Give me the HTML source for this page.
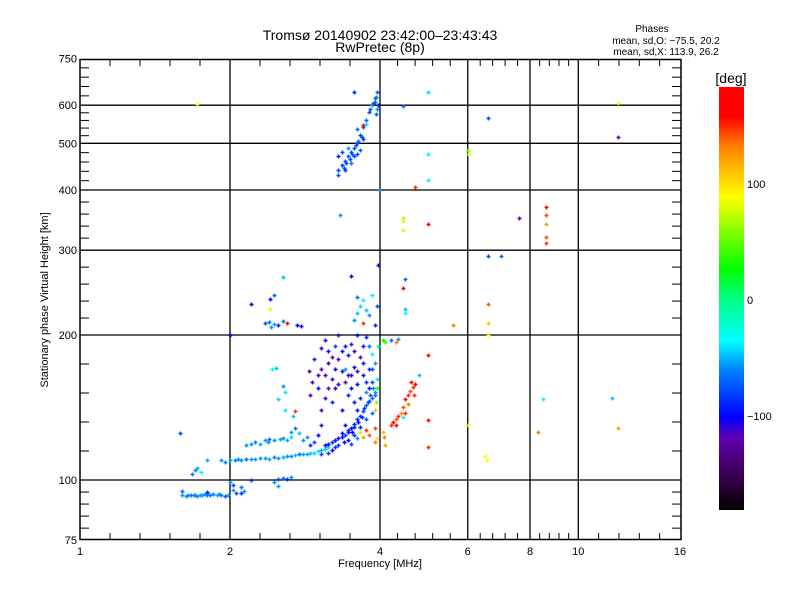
<!DOCTYPE html>
<html><head><meta charset="utf-8"><style>
body{margin:0;background:#fff}
svg text{font-family:"Liberation Sans",sans-serif;fill:#000}
</style></head><body>
<svg id="chart" width="800" height="600" viewBox="0 0 800 600" xmlns="http://www.w3.org/2000/svg">
<defs><linearGradient id="cb" x1="0" y1="1" x2="0" y2="0">
<stop offset="0" stop-color="#000"/><stop offset="0.08" stop-color="#3a0050"/><stop offset="0.17" stop-color="#6000b0"/><stop offset="0.22" stop-color="#0000ff"/><stop offset="0.33" stop-color="#0080ff"/><stop offset="0.4" stop-color="#00ffff"/><stop offset="0.5" stop-color="#00ff80"/><stop offset="0.57" stop-color="#00ff00"/><stop offset="0.74" stop-color="#ffff00"/><stop offset="0.86" stop-color="#ff8000"/><stop offset="0.93" stop-color="#ff0000"/><stop offset="1" stop-color="#ff0000"/>
</linearGradient></defs>
<text x="380" y="40" font-size="14" text-anchor="middle">Tromsø 20140902 23:42:00–23:43:43</text>
<text x="380" y="52" font-size="14" text-anchor="middle">RwPretec (8p)</text>
<g font-size="10" text-anchor="middle">
<text x="652" y="32">Phases</text><text x="666" y="44">mean, sd,O: −75.5, 20.2</text><text x="666" y="55">mean, sd,X: 113.9, 26.2</text></g>
<g id="grid"></g>
<g id="ticks"></g>
<g id="pts"></g>
<rect x="80" y="59.5" width="601" height="480" fill="none" stroke="#000" stroke-width="1.5"/>
<text x="380" y="567" font-size="11" text-anchor="middle">Frequency [MHz]</text>
<text x="48" y="300" font-size="11" text-anchor="middle" transform="rotate(-90 48 300)">Stationary phase Virtual Height [km]</text>
<rect x="719" y="87" width="25" height="423" fill="url(#cb)"/>
<text x="731" y="83" font-size="14" text-anchor="middle">[deg]</text>
<g id="cbt" font-size="11"></g>
</svg>
<script>
const xTickLabels=[1,2,4,6,8,10,16];
const yTickLabels=[75,100,200,300,400,500,600,750];
const xGridValues=[2,4,6,8,10];
const yGridValues=[100,200,300,400,500,600];
const cbTickValues=[100,0,-100];
const freq=[1.6,1.6,1.63,1.67,1.7,1.74,1.78,1.8,1.8,1.85,1.9,1.95,1.98,2.03,2.06,2.1,2.13,1.8,1.88,
2.0,2.03,2.1,2.45,2.5,2.55,2.6,2.65,2.5,2.2,
1.8,1.95,2.0,2.05,2.1,2.2,2.3,2.4,2.5,2.6,2.7,2.8,2.9,3.0,3.1,3.15,2.15,2.45,2.75,2.95,1.7,1.72,1.75,1.68,
2.15,2.2,2.25,2.3,2.35,2.4,2.55,2.6,2.65,2.7,2.65,2.75,
3.1,3.2,3.3,3.35,3.4,3.45,3.5,3.55,3.6,3.65,3.7,3.75,3.8,3.85,3.9,3.3,3.45,3.55,3.65,3.75,3.85,3.2,3.5,3.6,3.4,3.6,
3.7,3.75,3.8,3.9,3.95,3.9,3.65,
3.05,3.1,3.15,3.2,3.25,3.3,3.35,3.05,3.1,3.15,3.4,3.45,3.5,3.55,3.6,3.65,3.7,3.75,3.8,3.85,3.9,3.95,3.9,3.7,3.5,3.3,3.6,3.8,3.2,3.35,3.55,3.25,3.45,3.65,3.4,3.0,2.95,3.85,3.92,3.95,3.9,3.97,3.75,
3.55,3.6,3.65,3.7,3.75,3.8,3.85,3.7,3.6,3.9,3.95,3.5,3.97,
2.35,2.4,2.45,2.5,2.55,2.42,2.6,2.72,2.78,2.41,2.41,2.45,2.55,2.43,2.47,2.55,2.58,2.5,2.58,2.7,2.68,2.0,2.2,
2.9,2.95,2.85,3.0,2.8,3.05,2.88,2.92,2.9,3.0,
3.3,3.35,3.4,3.45,3.5,3.55,3.6,3.65,3.7,3.75,3.8,3.85,3.9,3.92,3.95,3.4,3.5,3.55,3.6,3.65,3.45,3.6,3.7,3.7,3.75,3.3,3.35,3.95,3.92,3.55,3.98,3.97,3.3,
4.2,4.25,4.3,4.35,4.4,4.45,4.5,4.55,4.6,4.65,4.7,4.55,4.45,4.62,4.68,4.3,4.5,4.08,4.1,4.05,4.8,
5.0,4.44,5.0,5.0,4.7,6.6,6.0,6.0,12,12,4.44,4.44,4.44,5.0,7.6,8.6,8.6,8.6,8.6,8.6,6.6,7.0,4.5,4.45,4.5,4.5,5.6,6.6,6.6,6.6,5.0,8.5,11.7,12,6.0,8.3,5.0,5.0,6.5,6.55,
4.05,4.1,4.2,4.3,4.35,1.72,1.59,3.33,
3.15,3.25,3.35,3.45,3.55,3.62,3.68,3.72,3.78,3.82,3.88,3.25,3.38,3.52,3.15,3.05,
1.92,2.08,2.25,2.35,2.55,2.65,2.85,3.05,2.38,2.45,2.52,
1.65,1.72,1.76,1.78,1.92,1.82,1.69,
3.1,3.2,3.3,3.35,3.45,3.5,3.6,3.7,3.75,3.8,3.15,3.25,3.05,3.4,3.55,3.85,
3.38,3.42,3.48,3.52,3.58,3.62,3.68,3.82,3.88,3.9];
const height=[93,95,92.5,93,93,93,93.5,93,94,93.5,93.5,92.5,93,95.5,94,94,95,94.5,93,
99,97.5,96.5,99,100.5,101,100.5,101.5,97,100,
110,109,110,110,110,110.5,111,110.5,111,112,112.5,113,114,115,116,117,110.5,111.5,113,114,105,106,104,103,
118,119,120,119,121,121.5,122,121,123,128,126,125,
118,120,122,125,124,127,128,131,134,136,139,143,146,148,152,118,121,124,129,134,138,115.5,119,122,130,140,
123,127,124,120,122,128,126,
140,148,155,162,170,178,185,188,195,175,160,150,165,172,158,180,165,152,170,160,175,162,150,190,192,200,200,190,145,140,145,190,182,148,170,165,178,183,145,155,140,190,198,
215,222,230,236,225,220,242,212,240,210,230,265,280,
212,213,211,210,214,208,212,210,209,237,226,242,264,170,171,157,152,147,140,139,136,200,232,
118,120,123,124,121,130,168,160,150,155,
440,450,460,470,480,490,500,520,540,560,580,600,610,625,640,440,455,470,475,485,490,535,510,545,548,470,480,590,575,640,400,600,430,
130,132,134,136,138,142,147,150,153,156,158,144,135,160,150,130,138,123,118,126,165,
640,598,475,420,405,565,485,475,605,515,350,345,330,340,350,368,355,340,320,310,292,292,262,250,227,222,210,232,212,200,182,147,148,128,130,126,133,117,112,110,
195,193,195,193,196,603,125,355,
119,121,123,126,129,132,135,141,145,150,155,117,120,126,114,113,
110,110.5,110.5,111,111.5,112,113.5,115.5,120,121,121.5,
93,92.5,93,93.5,93,93,93,
165,180,158,168,165,155,168,175,160,155,185,155,170,190,185,170,
445,455,465,475,495,505,515,590,605,620];
const phase=[-60,-70,-60,-70,-65,-60,-75,-65,-80,-65,-70,-75,-60,-60,-80,-90,-60,-90,-55,
-60,-80,-70,-60,-80,-70,-90,-60,-60,-90,
-55,-65,-60,-65,-60,-60,-60,-55,-60,-60,-50,-55,-50,-45,-50,-45,-70,-65,-70,-45,-60,-55,-40,-65,
-60,-60,-65,-55,-60,-70,-60,-55,-45,-70,-60,-50,
-100,-90,-95,-100,-80,-90,-100,-95,-90,-85,-80,-75,-80,-70,-60,-90,-100,-85,-90,-75,-70,-100,-80,-60,-105,-100,
120,150,140,130,100,145,100,
-120,-110,-120,-110,-100,-115,-95,-110,-100,-130,-120,-90,-110,-100,-100,-120,-95,-60,-90,-80,-60,-40,-70,-100,-90,-110,-100,-70,-90,-100,-95,-80,-100,-90,-60,-130,-90,-40,60,20,110,-10,-90,
-60,-50,-45,-40,-50,-60,-40,150,-70,-90,-80,-100,-100,
-80,-70,-60,-90,-70,-60,160,-100,-110,-100,80,-70,-50,-40,-50,-60,-40,-45,-40,150,-50,-100,-100,
-90,-80,-60,-100,-60,-110,-130,-120,-125,-100,
-80,-85,-80,-75,-85,-80,-75,-80,-75,-70,-80,-60,-70,-65,-75,-85,-70,-80,-85,-75,-60,-70,-80,170,-40,-90,-80,-60,-75,-90,-60,-95,-80,
150,160,140,150,130,140,160,150,140,150,160,130,-40,170,150,170,150,130,120,110,-50,
-45,-70,-40,-40,150,-80,60,70,90,-120,70,80,75,160,-120,165,145,120,140,150,-80,-70,-70,160,-50,-40,130,140,110,90,170,-40,-50,120,80,130,165,150,90,85,
30,40,-70,130,-60,90,-80,-60,
-100,-95,-100,-95,-90,-100,-90,-85,-80,-75,-65,-90,-100,-100,-85,-80,
-60,-60,-60,-60,-55,-60,-55,-50,-60,-60,-55,
-65,-60,-60,-60,-65,-65,-65,
-115,-120,-110,-100,-110,-100,-110,-100,-90,-95,-100,-110,-120,-100,-110,-80,
-80,-75,-80,-75,-80,-75,-80,-75,-80,-75];

const NS='http://www.w3.org/2000/svg';
const X0=80,PXO=150,Y100=480,PXOY=145;
function xs(f){return X0+PXO*Math.log2(f);}
function ys(h){return Y100-PXOY*Math.log2(h/100);}
function cbY(v){return 300-1.16*v;}
const stops=[[-180,0,0,0],[-150,58,0,80],[-120,96,0,176],[-100,0,0,255],[-65,0,128,255],[-37,0,255,255],[-5,0,255,128],[26,0,255,0],[89,255,255,0],[130,255,128,0],[160,255,0,0],[180,255,0,0]];
function color(v){v=Math.max(-180,Math.min(180,v));for(let i=1;i<stops.length;i++){if(v<=stops[i][0]){const a=stops[i-1],b=stops[i],t=(v-a[0])/(b[0]-a[0]);return 'rgb('+[1,2,3].map(k=>Math.round(a[k]+t*(b[k]-a[k]))).join(',')+')';}}return 'red';}
function mk(tag,attrs,parent){const e=document.createElementNS(NS,tag);for(const k in attrs)e.setAttribute(k,attrs[k]);parent.appendChild(e);return e;}
const grid=document.getElementById('grid');
xGridValues.forEach(f=>{const l=mk('line',{x1:xs(f),x2:xs(f),y1:59,y2:540,stroke:'#000','stroke-width':1.3},grid);

});
yGridValues.forEach(h=>{const l=mk('line',{x1:80,x2:681,y1:ys(h),y2:ys(h),stroke:'#000','stroke-width':1.3},grid);

});
const tk=document.getElementById('ticks');
for(let i=0;i<xTickLabels.length-1;i++){const a=xs(xTickLabels[i]),b=xs(xTickLabels[i+1]);const n=(xTickLabels[i]<4)?5*Math.round(Math.log2(xTickLabels[i+1]/xTickLabels[i])):5;
for(let j=1;j<n;j++){const x=a+(b-a)*j/n;mk('line',{x1:x,x2:x,y1:540,y2:533,stroke:'#000'},tk);mk('line',{x1:x,x2:x,y1:59,y2:66,stroke:'#000'},tk);}}
for(let i=0;i<yTickLabels.length-1;i++){const a=ys(yTickLabels[i]),b=ys(yTickLabels[i+1]);for(let j=1;j<5;j++){const y=a+(b-a)*j/5;mk('line',{x1:80,x2:89,y1:y,y2:y,stroke:'#000'},tk);mk('line',{x1:681,x2:672,y1:y,y2:y,stroke:'#000'},tk);}}
xTickLabels.forEach(f=>{const t=mk('text',{x:xs(f),y:555,'font-size':11,'text-anchor':'middle'},tk);t.textContent=f;

});
yTickLabels.forEach(h=>{const t=mk('text',{x:77,y:ys(h)+4,'font-size':11,'text-anchor':'end'},tk);t.textContent=h;

});
const cbt=document.getElementById('cbt');
cbTickValues.forEach(v=>{const t=mk('text',{x:747,y:cbY(v)+4},cbt);t.textContent=(v<0?'−':'')+Math.abs(v);

});
const pts=document.getElementById('pts');
for(let i=0;i<freq.length;i++){const x=Math.round(xs(freq[i]))+0.5,y=Math.round(ys(height[i]))+0.5;
const p=mk('path',{d:'M'+(x-2)+' '+y+'h4M'+x+' '+(y-2)+'v4',stroke:color(phase[i]),'stroke-width':1.5},pts);

}
</script>
</body></html>
